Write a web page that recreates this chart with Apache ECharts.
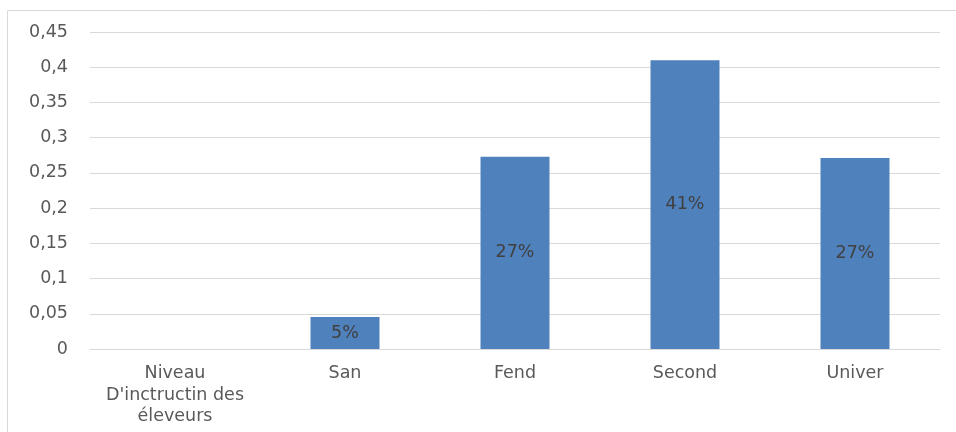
<!DOCTYPE html>
<html>
<head>
<meta charset="utf-8">
<script src="https://cdn.jsdelivr.net/npm/echarts@6/dist/echarts.min.js"></script>
<style>html,body{margin:0;padding:0;background:#fff;}#c{width:956px;height:432px;}</style>
</head>
<body>
<div id="c"></div>
<script>
var categories = ["Niveau\nD'inctructin des\néleveurs", "San", "Fend", "Second", "Univer"];
var values = [null, 0.0455, 0.273, 0.41, 0.271];
var yTicks = {min: 0, max: 0.45, interval: 0.05};

var chart = echarts.init(document.getElementById('c'), null, {renderer: 'canvas'});
var font = 'DejaVu Sans';
chart.setOption({
  animation: false,
  textStyle: {fontFamily: font},
  graphic: [{
    type: 'polyline', shape: {points: [[7.5, 432], [7.5, 10.5], [956, 10.5]]},
    style: {fill: null, stroke: '#d9d9d9', lineWidth: 1}, silent: true
  }],
  grid: {left: 90, right: 16, top: 32, bottom: 83},
  xAxis: {
    type: 'category', data: categories,
    axisLine: {show: true, lineStyle: {color: '#d9d9d9', width: 1}},
    axisTick: {show: false},
    axisLabel: {color: '#595959', fontSize: 17.5, fontFamily: font, margin: 14, lineHeight: 21.5, interval: 0}
  },
  yAxis: {
    type: 'value', min: yTicks.min, max: yTicks.max, interval: yTicks.interval,
    axisLine: {show: false}, axisTick: {show: false},
    splitLine: {lineStyle: {color: '#d9d9d9', width: 1}},
    axisLabel: {
      color: '#595959', fontSize: 17.5, fontFamily: font, margin: 22,
      formatter: function (v) { return String(+v.toFixed(2)).replace('.', ','); }
    }
  },
  series: [{
    type: 'bar', data: values, barWidth: 69,
    itemStyle: {color: '#4f81bd'},
    label: {
      show: true, position: 'inside', color: '#404040', fontSize: 17.5, fontFamily: font,
      formatter: function (p) { return p.value == null ? '' : Math.round(p.value * 100) + '%'; }
    }
  }]
});
</script>
</body>
</html>
